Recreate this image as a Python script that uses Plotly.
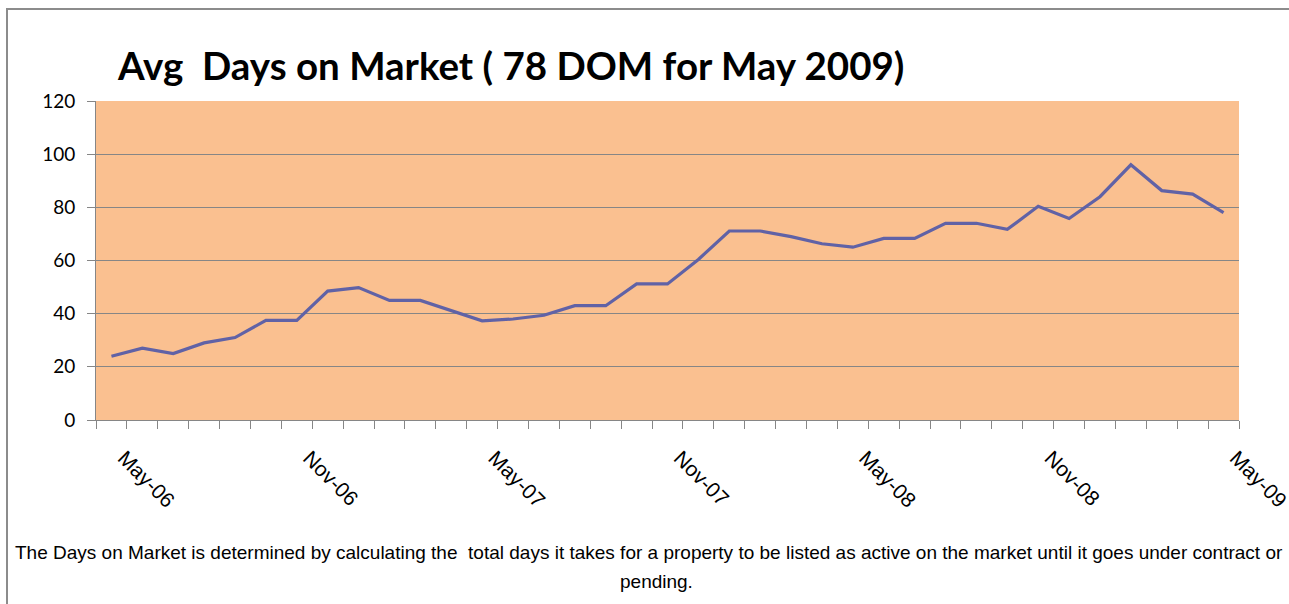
import plotly.graph_objects as go

# ---- data ----
months = ["May-06", "Jun-06", "Jul-06", "Aug-06", "Sep-06", "Oct-06", "Nov-06", "Dec-06",
          "Jan-07", "Feb-07", "Mar-07", "Apr-07", "May-07", "Jun-07", "Jul-07", "Aug-07",
          "Sep-07", "Oct-07", "Nov-07", "Dec-07", "Jan-08", "Feb-08", "Mar-08", "Apr-08",
          "May-08", "Jun-08", "Jul-08", "Aug-08", "Sep-08", "Oct-08", "Nov-08", "Dec-08",
          "Jan-09", "Feb-09", "Mar-09", "Apr-09", "May-09"]
avg_dom = [24, 27, 25, 29, 31, 37.5, 37.5, 48.5, 49.8, 45, 45, 41, 37.3, 38, 39.4, 43,
           43, 51.2, 51.2, 60.4, 71.1, 71.1, 69, 66.3, 65, 68.3, 68.3, 74, 74, 71.7,
           80.4, 75.8, 84, 96, 86.3, 85, 78]
labelled_months = ["May-06", "Nov-06", "May-07", "Nov-07", "May-08", "Nov-08", "May-09"]
y_ticks = [0, 20, 40, 60, 80, 100, 120]

title_text = "Avg\u00a0 Days on Market ( 78 DOM for May 2009)"
caption_line1 = ("The Days on Market is determined by calculating the\u00a0 total days it takes "
                 "for a property to be listed as active on the market until it goes under contract or")
caption_line2 = "pending."

# ---- layout geometry (pixels) ----
W, H = 1289, 604
L, R, T, B = 96, 50, 101, 184
PW, PH = W - L - R, H - T - B


def fx(px):
    return (px - L) / PW


def fy(py):
    return (H - B - py) / PH


GRID = "#868686"
PAD = "\u00a0\u00a0\u00a0"

fig = go.Figure(
    go.Scatter(
        x=months, y=avg_dom, mode="lines",
        line=dict(color="#6062A6", width=3.2),
        hoverinfo="x+y",
    )
)

fig.update_layout(
    width=W, height=H, autosize=False,
    margin=dict(l=L, r=R, t=T, b=B, pad=0, autoexpand=False),
    paper_bgcolor="white",
    plot_bgcolor="#FAC090",
    showlegend=False,
    title=dict(
        text=title_text,
        font=dict(family="Lato", size=38.5, color="black", weight="bold"),
        xref="container", yref="container",
        x=118 / W, xanchor="left",
        y=1 - 67 / H, yanchor="middle",
    ),
    xaxis=dict(
        type="category",
        categoryorder="array", categoryarray=months,
        range=[-0.5, len(months) - 0.5],
        tickmode="array",
        tickvals=months,
        ticktext=[PAD + m if m in labelled_months else "" for m in months],
        tickson="boundaries",
        ticks="outside", ticklen=8, tickcolor=GRID, tickwidth=1,
        showline=True, linecolor=GRID, linewidth=1,
        showgrid=False,
        tickangle=45,
        tickfont=dict(family="Liberation Sans", size=21, color="black"),
        ticklabelstandoff=4,
        automargin=False,
    ),
    yaxis=dict(
        range=[0, 120],
        tickmode="array", tickvals=y_ticks,
        showgrid=True, gridcolor=GRID, gridwidth=1,
        zeroline=False,
        showline=True, linecolor=GRID, linewidth=1,
        ticks="outside", ticklen=8, tickcolor=GRID,
        tickfont=dict(family="Lato", size=19, color="black"),
        ticklabelstandoff=8,
        automargin=False,
    ),
    shapes=[
        dict(type="rect", xref="paper", yref="paper",
             x0=fx(7), x1=fx(1320), y0=fy(630), y1=fy(9),
             line=dict(color="#8C8C8C", width=2), fillcolor="rgba(0,0,0,0)", layer="below"),
    ],
    annotations=[
        dict(text=caption_line1, xref="paper", yref="paper",
             x=fx(649), y=fy(552), xanchor="center", yanchor="middle", showarrow=False,
             font=dict(family="Liberation Sans", size=19, color="black")),
        dict(text=caption_line2, xref="paper", yref="paper",
             x=fx(656), y=fy(581), xanchor="center", yanchor="middle", showarrow=False,
             font=dict(family="Liberation Sans", size=19, color="black")),
    ],
)

fig.write_html("out.html", config={"displayModeBar": False},
               post_script="document.body.style.margin='0';")
